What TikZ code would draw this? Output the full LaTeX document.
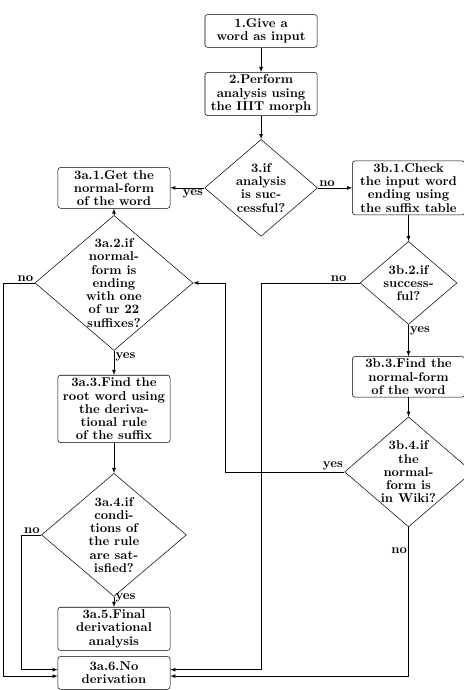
\documentclass[tikz,border=0pt]{standalone}
\usetikzlibrary{shapes.geometric}
\begin{document}
\begin{tikzpicture}[>=latex,
  box/.style={draw,rounded corners=2pt,align=center,minimum width=3.08cm,minimum height=0.9cm,inner ysep=2pt,font=\fontsize{10}{10.4}\selectfont\bfseries},
  decision/.style={draw,diamond,aspect=1.17,inner sep=-2pt,align=center,font=\fontsize{10}{10.4}\selectfont\bfseries},
  lbl/.style={inner sep=1pt,font=\bfseries}]
  \useasboundingbox (0,0) rectangle (12.74,-18.95);

  % Analysis with the morph

  \node[box] (s1) at (7.17,-0.85) {1.Give a\\word as input};
  \node[box] (s2) at (7.17,-2.58) {2.Perform\\analysis using\\the IIIT morph};
  \node[decision,minimum width=3.10cm,minimum height=2.66cm] (d3) at (7.17,-5.16) {3.if\\analysis\\is suc-\\cessful?};

  \draw[->] (s1) -- (s2);
  \draw[->] (s2) -- (d3);

  % 3a: analysis found

  \node[box] (a1) at (3.13,-5.16) {3a.1.Get the\\normal-form\\of the word};
  \node[decision,minimum width=4.34cm,minimum height=3.71cm] (a2) at (3.13,-7.77) {3a.2.if\\normal-\\form is\\ending\\with one\\of ur 22\\suffixes?};
  \node[box] (a3) at (3.13,-11.23) {3a.3.Find the\\root word using\\the deriva-\\tional rule\\of the suffix};
  \node[decision,minimum width=3.98cm,minimum height=3.38cm] (a4) at (3.13,-14.69) {3a.4.if\\condi-\\tions of\\the rule\\are sat-\\isfied?};
  \node[box] (a5) at (3.13,-17.27) {3a.5.Final\\derivational\\analysis};
  \node[box] (a6) at (3.13,-18.48) {3a.6.No\\derivation};

  \draw[->] (d3) -- node[lbl,pos=0,below left] (l3y) {yes} (a1);
  \draw[->] (a2) -- (a1);
  \draw[->] (a2) -- node[lbl,pos=0,below right] (l2y) {yes} (a3);
  \draw[->] (a3) -- (a4);
  \draw[->] (a4) -- node[lbl,pos=0.1,right] (l4y) {yes} (a5);
  \draw[->] (a2.west) -- node[lbl,pos=0,above left] (l2n) {no} ++(-0.85,0) |- ([yshift=-2.5pt]a6.west);
  \draw[->] (a4.west) -- node[lbl,pos=0,above left] (l4n) {no} ++(-0.55,0) |- ([yshift=2.5pt]a6.west);

  % 3b: analysis failed

  \node[box] (b1) at (11.22,-5.16) {3b.1.Check\\the input word\\ending using\\the suffix table};
  \node[decision,minimum width=2.66cm,minimum height=2.28cm] (b2) at (11.22,-7.77) {3b.2.if\\success-\\ful?};
  \node[box] (b3) at (11.22,-10.35) {3b.3.Find the\\normal-form\\of the word};
  \node[decision,minimum width=3.51cm,minimum height=3.02cm] (b4) at (11.22,-12.96) {3b.4.if\\the\\normal-\\form is\\in Wiki?};

  \draw[->] (d3) -- node[lbl,pos=0,above right] (l3n) {no} (b1);
  \draw[->] (b1) -- (b2);
  \draw[->] (b2) -- node[lbl,pos=0,below right] (lb2y) {yes} (b3);
  \draw[->] (b3) -- (b4);
  \draw[->] (b2.west) -- node[lbl,pos=0.12,above left] (lb2n) {no} ++(-2.72,0) |- ([yshift=2.5pt]a6.east);
  \draw[->] (b4.west) -- node[lbl,pos=0,above left] (lb4y) {yes} ++(-3.27,0) |- (a2.east);
  \draw[->] (b4.south) |- node[lbl,pos=0.08,left] (lb4n) {no} ([yshift=-2.5pt]a6.east);

\end{tikzpicture}
\end{document}
